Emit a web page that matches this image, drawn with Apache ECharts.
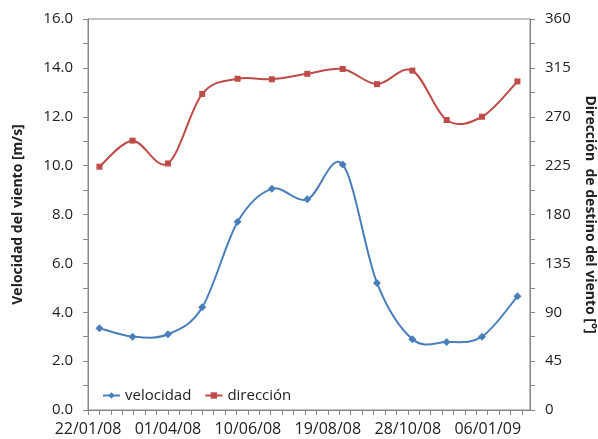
<!DOCTYPE html>
<html>
<head>
<meta charset="utf-8">
<script src="https://cdn.jsdelivr.net/npm/echarts@6/dist/echarts.min.js"></script>
<style>
html,body{margin:0;padding:0;background:#fff;}
#chart{width:598px;height:439px;}
</style>
</head>
<body>
<div id="chart"></div>
<script>
// Data
const dates = ['2008-02-01','2008-03-01','2008-04-01','2008-05-01','2008-06-01','2008-07-01','2008-08-01',
               '2008-09-01','2008-10-01','2008-11-01','2008-12-01','2009-01-01','2009-02-01'];
const velocidad = [3.35, 3.0, 3.1, 4.2, 7.7, 9.05, 8.62, 10.05, 5.2, 2.9, 2.78, 3.0, 4.65];
const direccion = [224, 248, 227, 291, 305, 304.5, 309.5, 314, 300, 312.5, 267, 270, 302.5];
const xTickLabels = ['22/01/08','01/04/08','10/06/08','19/08/08','28/10/08','06/01/09'];
const axisStart = '2008-01-22';
const axisEnd = '2009-02-12';

const DAY = 86400000;
function dayOffset(s){ return Math.round((Date.parse(s + 'T00:00:00Z') - Date.parse(axisStart + 'T00:00:00Z')) / DAY); }
const xs = dates.map(dayOffset);
const xMax = dayOffset(axisEnd);

const FONT = 'Open Sans';
const axisColor = '#868686';
const textColor = '#222';
const BLUE = '#4A7EBB';
const RED = '#BE4B48';

// Smoothed curve (Catmull-Rom style, like spreadsheet smoothing) drawn through the axes' coordinates
function curveSeries(vals, axisIdx, color) {
  const n = vals.length;
  return {
    type: 'custom', yAxisIndex: axisIdx, silent: true, z: 1,
    data: xs.map((x, i) => [x, vals[i]]),
    renderItem: function (params, api) {
      const i = params.dataIndex;
      if (i >= n - 1) return null;
      const P = k => { k = Math.max(0, Math.min(n - 1, k)); return api.coord([xs[k], vals[k]]); };
      const p0 = P(i - 1), p1 = P(i), p2 = P(i + 1), p3 = P(i + 2);
      return {
        type: 'bezierCurve',
        shape: {
          x1: p1[0], y1: p1[1], x2: p2[0], y2: p2[1],
          cpx1: p1[0] + (p2[0] - p0[0]) / 6, cpy1: p1[1] + (p2[1] - p0[1]) / 6,
          cpx2: p2[0] - (p3[0] - p1[0]) / 6, cpy2: p2[1] - (p3[1] - p1[1]) / 6
        },
        style: { stroke: color, lineWidth: 2, fill: null }
      };
    }
  };
}

const chart = echarts.init(document.getElementById('chart'));
chart.setOption({
  animation: false,
  backgroundColor: '#fff',
  grid: { left: 88, right: 68, top: 19, bottom: 29, show: true, borderColor: axisColor, borderWidth: 1,
          containLabel: false, outerBoundsMode: 'none' },
  legend: {
    left: 97, top: 383,
    itemWidth: 17, itemHeight: 8, itemGap: 13,
    textStyle: { fontFamily: FONT, fontSize: 15, color: textColor },
    data: [
      { name: 'velocidad', lineStyle: { color: BLUE, width: 2, opacity: 1 } },
      { name: 'dirección', lineStyle: { color: RED, width: 2, opacity: 1 } }
    ]
  },
  xAxis: {
    type: 'value', min: 0, max: xMax, interval: 10,
    splitLine: { show: false },
    axisLine: { lineStyle: { color: axisColor } },
    axisTick: { length: 5, lineStyle: { color: axisColor } },
    axisLabel: {
      margin: 11, fontFamily: FONT, fontSize: 16, color: textColor,
      showMaxLabel: false,
      formatter: function(v){ return (v % 70 === 0) ? (xTickLabels[v/70] || '') : ''; }
    }
  },
  yAxis: [{
    type: 'value', min: 0, max: 16, interval: 1,
    name: 'Velocidad del viento [m/s]', nameLocation: 'middle', nameGap: 63,
    nameTextStyle: { fontFamily: FONT, fontSize: 14, fontWeight: 'bold', color: textColor },
    splitLine: { show: false },
    axisLine: { show: true, lineStyle: { color: axisColor } },
    axisTick: { show: true, length: 5, lineStyle: { color: axisColor } },
    axisLabel: {
      margin: 15, fontFamily: FONT, fontSize: 15, color: textColor,
      formatter: function(v){ return (v % 2 === 0) ? v.toFixed(1) : ''; }
    }
  }, {
    type: 'value', min: 0, max: 360, interval: 22.5, position: 'right',
    name: 'Dirección  de destino del viento [°]', nameLocation: 'middle', nameGap: 53, nameRotate: -90,
    nameTextStyle: { fontFamily: FONT, fontSize: 14, fontWeight: 'bold', color: textColor },
    splitLine: { show: false },
    axisLine: { show: true, lineStyle: { color: axisColor } },
    axisTick: { show: true, length: 5, lineStyle: { color: axisColor } },
    axisLabel: {
      margin: 15, fontFamily: FONT, fontSize: 15, color: textColor,
      formatter: function(v){ return (v % 45 === 0) ? String(v) : ''; }
    }
  }],
  series: [
    curveSeries(velocidad, 0, BLUE),
    curveSeries(direccion, 1, RED),
    {
      name: 'velocidad', type: 'line', yAxisIndex: 0, z: 3,
      data: xs.map((x,i) => [x, velocidad[i]]),
      symbol: 'diamond', symbolSize: 8,
      itemStyle: { color: BLUE },
      lineStyle: { color: BLUE, width: 2, opacity: 0 }
    }, {
      name: 'dirección', type: 'line', yAxisIndex: 1, z: 3,
      data: xs.map((x,i) => [x, direccion[i]]),
      symbol: 'rect', symbolSize: 6,
      itemStyle: { color: RED },
      lineStyle: { color: RED, width: 2, opacity: 0 }
    }
  ]
});
</script>
</body>
</html>
